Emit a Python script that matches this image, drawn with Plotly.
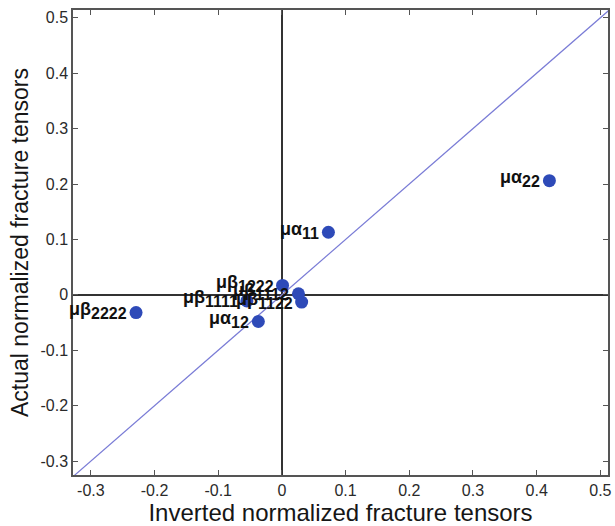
import plotly.graph_objects as go

# ---- data ----
names = ["μα", "μα", "μα", "μβ", "μβ", "μβ", "μβ", "μβ"]
subs = ["11", "22", "12", "1111", "2222", "1122", "1112", "1222"]
inv_vals = [0.073, 0.420, -0.037, -0.055, -0.229, 0.031, 0.026, 0.001]
act_vals = [0.113, 0.206, -0.048, -0.011, -0.032, -0.013, 0.002, 0.017]

tick_vals = [-0.3, -0.2, -0.1, 0, 0.1, 0.2, 0.3, 0.4, 0.5]
tick_text = ["-0.3", "-0.2", "-0.1", "0", "0.1", "0.2", "0.3", "0.4", "0.5"]

x_range = [-0.328, 0.512]
y_range = [-0.325, 0.514]

FONT = "Arial, Liberation Sans, Helvetica"

fig = go.Figure()

# y = x reference line spanning the axes
lo = min(x_range[0], y_range[0])
hi = max(x_range[1], y_range[1])
fig.add_trace(go.Scatter(x=[lo, hi], y=[lo, hi], mode="lines",
                         line=dict(color="#7a7cd6", width=1.2),
                         hoverinfo="skip", showlegend=False))

fig.add_trace(go.Scatter(x=inv_vals, y=act_vals, mode="markers",
                         marker=dict(color="#2e4ab8", size=13),
                         showlegend=False))

for n, s, xv, yv in zip(names, subs, inv_vals, act_vals):
    fig.add_annotation(x=xv, y=yv, xref="x", yref="y",
                       text=f"<b>{n}<sub><span style='font-size:16px'>{s}</span></sub></b>",
                       showarrow=False, xanchor="right", yanchor="middle",
                       xshift=-7, yshift=2,
                       font=dict(family=FONT, size=18, color="#111"))

axis_common = dict(
    tickvals=tick_vals, ticktext=tick_text,
    showline=True, mirror="ticks", linecolor="#555", linewidth=1.5,
    ticks="inside", ticklen=5, tickcolor="#555", tickwidth=1,
    showgrid=False,
    zeroline=True, zerolinecolor="#333", zerolinewidth=2,
    tickfont=dict(family=FONT, size=16, color="#2a2a2a"),
)

fig.update_layout(
    width=615, height=526,
    margin=dict(l=73, r=3, t=10, b=51),
    paper_bgcolor="white", plot_bgcolor="white",
    xaxis=dict(range=x_range, title=dict(text="Inverted normalized fracture tensors",
               font=dict(family=FONT, size=24, color="#161616"), standoff=1),
               **axis_common),
    yaxis=dict(range=y_range, title=dict(text="Actual normalized fracture tensors",
               font=dict(family=FONT, size=23, color="#161616"), standoff=5),
               **axis_common),
)

fig.write_html("out.html")
